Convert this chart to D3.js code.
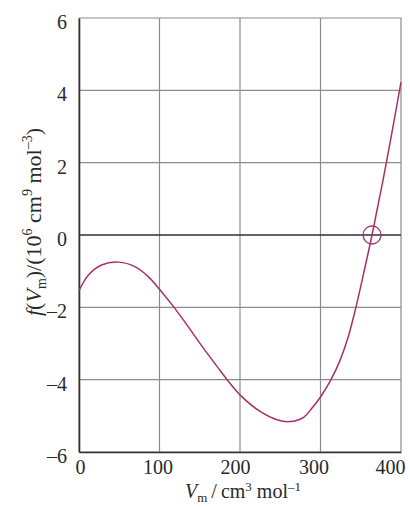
<!DOCTYPE html>
<html>
<head>
<meta charset="utf-8">
<script src="https://cdn.jsdelivr.net/npm/d3@7"></script>
<style>
  html, body { margin: 0; padding: 0; background: #fff; }
  svg { display: block; }
  text { font-family: "Liberation Serif", "DejaVu Serif", serif; fill: #2a2a2a; }
</style>
</head>
<body>
<svg id="chart" width="410" height="509"></svg>
<script>
// Molar volume samples (cm3 mol-1) and the cubic f(Vm) in 10^6 cm9 mol-3
const vm  = [0, 12, 28, 49, 70, 86, 100, 119, 140, 150, 173, 184, 200, 225, 246, 262, 279, 289, 300, 313, 324, 334, 344, 354, 364, 382, 400];
const fvm = [-1.54, -1.10, -0.83, -0.75, -0.88, -1.15, -1.50, -2.03, -2.67, -2.99, -3.68, -4.0, -4.42, -4.88, -5.11, -5.16, -5.04, -4.80, -4.48, -4.0, -3.48, -2.85, -2.0, -1.02, 0, 2.02, 4.23];

// Root marked with a circle
const rootV = [364];
const rootF = [0];

const xTicks = [0, 100, 200, 300, 400];
const yTicks = [-6, -4, -2, 0, 2, 4, 6];

const W = 410, H = 509;
const margin = { top: 18, right: 9, bottom: 57, left: 79 };
const iw = W - margin.left - margin.right;
const ih = H - margin.top - margin.bottom;

// small horizontal nudges of the x tick labels so the last one stays inside
const xLabelShift = [1, -2, -5, -7, -11];

const svg = d3.select("#chart");
const g = svg.append("g").attr("transform", `translate(${margin.left},${margin.top})`);

const x = d3.scaleLinear().domain([0, 400]).range([0, iw]);
const y = d3.scaleLinear().domain([-6, 6]).range([ih, 0]);

const fmt = d => (d < 0 ? "\u2013" + Math.abs(d) : String(d));

// Grid
g.append("g")
  .selectAll("line")
  .data(xTicks)
  .join("line")
  .attr("x1", d => x(d)).attr("x2", d => x(d))
  .attr("y1", 0).attr("y2", ih)
  .attr("stroke", "#8c8c8c").attr("stroke-width", 1.2);

g.append("g")
  .selectAll("line")
  .data(yTicks.filter(d => d !== 0))
  .join("line")
  .attr("x1", 0).attr("x2", iw)
  .attr("y1", d => y(d)).attr("y2", d => y(d))
  .attr("stroke", "#8c8c8c").attr("stroke-width", 1.2);

// Zero line
g.append("line")
  .attr("x1", 0).attr("x2", iw)
  .attr("y1", y(0)).attr("y2", y(0))
  .attr("stroke", "#2f2f2f").attr("stroke-width", 1.4);

// Axes (tick marks hidden, labels only)
const xAxis = g.append("g")
  .attr("transform", `translate(0,${ih})`)
  .call(d3.axisBottom(x).tickValues(xTicks).tickFormat(fmt).tickSize(0).tickPadding(0));
xAxis.select(".domain").attr("stroke", "#2f2f2f").attr("stroke-width", 1.6);
xAxis.selectAll("text")
  .attr("font-size", 20)
  .attr("dy", null)
  .attr("y", 22)
  .attr("x", (d, i) => xLabelShift[i])
  .attr("fill", "#2a2a2a");

const yAxis = g.append("g")
  .call(d3.axisLeft(y).tickValues(yTicks).tickFormat(fmt).tickSize(0).tickPadding(0));
yAxis.select(".domain").attr("stroke", "#2f2f2f").attr("stroke-width", 1.6);
yAxis.selectAll("text")
  .attr("font-size", 20)
  .attr("x", -12)
  .attr("dy", "0.38em")
  .attr("transform", "translate(0,3)")
  .attr("fill", "#2a2a2a");

// Curve
const pts = vm.map((v, i) => [v, fvm[i]]);
const line = d3.line()
  .x(d => x(d[0]))
  .y(d => y(d[1]))
  .curve(d3.curveCatmullRom.alpha(0.5));

g.append("path")
  .datum(pts)
  .attr("d", line)
  .attr("fill", "none")
  .attr("stroke", "#a8306a")
  .attr("stroke-width", 1.5);

// Root marker
g.selectAll("circle.root")
  .data(rootV.map((v, i) => [v, rootF[i]]))
  .join("circle")
  .attr("class", "root")
  .attr("cx", d => x(d[0]))
  .attr("cy", d => y(d[1]))
  .attr("r", 9)
  .attr("fill", "none")
  .attr("stroke", "#a8306a")
  .attr("stroke-width", 1.3);

// X axis title
const xt = svg.append("text")
  .attr("x", 243).attr("y", 498)
  .attr("text-anchor", "middle")
  .attr("font-size", 20);
xt.append("tspan").attr("font-style", "italic").text("V");
xt.append("tspan").attr("font-size", 13).attr("dy", 4).text("m");
xt.append("tspan").attr("dy", -4).text("\u2009/\u2009cm");
xt.append("tspan").attr("font-size", 13).attr("dy", -7).text("3");
xt.append("tspan").attr("dy", 7).text(" mol");
xt.append("tspan").attr("font-size", 13).attr("dy", -7).text("\u20131");

// Y axis title
const yt = svg.append("text")
  .attr("transform", "translate(41,222) rotate(-90)")
  .attr("text-anchor", "middle")
  .attr("font-size", 22);
yt.append("tspan").attr("font-style", "italic").text("f");
yt.append("tspan").text("(");
yt.append("tspan").attr("font-style", "italic").text("V");
yt.append("tspan").attr("font-size", 14).attr("dy", 5).text("m");
yt.append("tspan").attr("dy", -5).text(")/(10");
yt.append("tspan").attr("font-size", 14).attr("dy", -9).text("6");
yt.append("tspan").attr("dy", 9).text(" cm");
yt.append("tspan").attr("font-size", 14).attr("dy", -9).text("9");
yt.append("tspan").attr("dy", 9).text(" mol");
yt.append("tspan").attr("font-size", 14).attr("dy", -9).text("\u20133");
yt.append("tspan").attr("dy", 9).text(")");
</script>
</body>
</html>
